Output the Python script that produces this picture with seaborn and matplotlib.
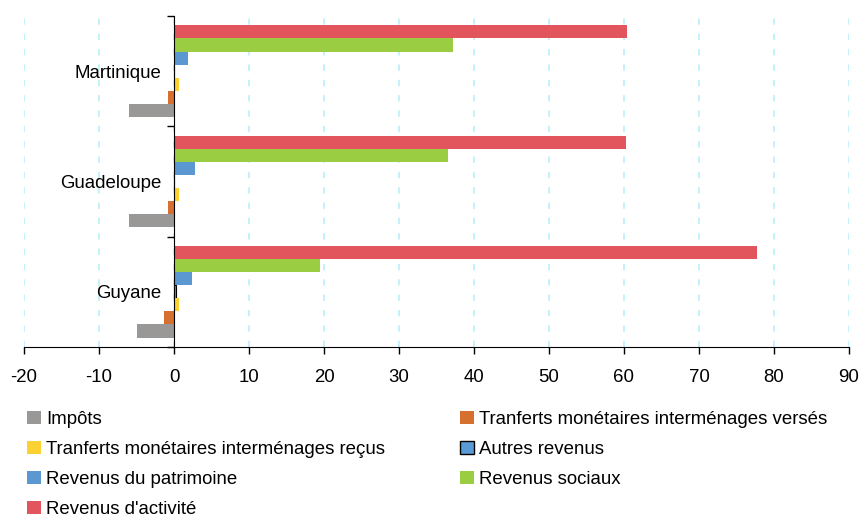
import pandas as pd
import numpy as np
import seaborn as sns
import matplotlib.pyplot as plt

# Données (en %)
regions = ['Martinique', 'Guadeloupe', 'Guyane']
series = ["Revenus d'activité", 'Revenus sociaux', 'Revenus du patrimoine', 'Autres revenus',
          'Tranferts monétaires interménages reçus', 'Tranferts monétaires interménages versés', 'Impôts']
revenus_activite = [60.4, 60.3, 77.7]
revenus_sociaux = [37.2, 36.5, 19.5]
revenus_patrimoine = [1.9, 2.8, 2.4]
autres_revenus = [0.0, 0.0, 0.25]
transferts_recus = [0.7, 0.6, 0.6]
transferts_verses = [-0.8, -0.8, -1.3]
impots = [-6.0, -6.0, -5.0]
x_ticks = list(range(-20, 100, 10))

values = [revenus_activite, revenus_sociaux, revenus_patrimoine, autres_revenus,
          transferts_recus, transferts_verses, impots]
rows = []
for s, vals in zip(series, values):
    for r, v in zip(regions, vals):
        rows.append({'region': r, 'serie': s, 'valeur': v})
df = pd.DataFrame(rows)

colors = ['#E3555C', '#9ACD41', '#5B97D1', '#5B9BD5', '#FBD232', '#D5702E', '#999896']
palette = dict(zip(series, colors))

plt.rcParams['font.family'] = ['Liberation Sans', 'DejaVu Sans']
plt.rcParams['axes.unicode_minus'] = False
fs = 13.4

fig, ax = plt.subplots(figsize=(8.61, 5.17), dpi=100)
fig.subplots_adjust(left=0.028, right=0.986, top=0.969, bottom=0.329)

sns.barplot(data=df, x='valeur', y='region', hue='serie', hue_order=series,
            order=regions, palette=palette, orient='h', width=0.83, saturation=1,
            errorbar=None, ax=ax, legend=True)

# contour noir pour "Autres revenus"
for patch in ax.containers[3]:
    patch.set_edgecolor('black')
    patch.set_linewidth(0.8)

ax.set_xlim(-20, 90)
ax.set_ylim(2.5, -0.5)
ax.set_xticks(x_ticks)
ax.set_xlabel('')
ax.set_ylabel('')
ax.tick_params(axis='x', labelsize=fs, length=5, width=1, color='black', pad=11)

# axe vertical sur 0
ax.spines['left'].set_position(('data', 0))
ax.spines['left'].set_color('black')
ax.spines['bottom'].set_color('black')
ax.spines['top'].set_visible(False)
ax.spines['right'].set_visible(False)
ax.set_yticks(range(len(regions)))
ax.set_yticklabels(regions)
ax.set_yticks([-0.5, 0.5, 1.5, 2.5], minor=True)
ax.tick_params(axis='y', which='major', length=0, pad=9, labelsize=fs)
ax.tick_params(axis='y', which='minor', length=5, width=1, color='black')

ax.set_axisbelow(True)
ax.xaxis.grid(True, color='#BDF1FB', linestyle=(0, (3.5, 5)), linewidth=1.3)
ax.yaxis.grid(False)

# légende dans l'ordre du graphique original
handles, labels = ax.get_legend_handles_labels()
lookup = dict(zip(labels, handles))
leg_order = ['Impôts', 'Tranferts monétaires interménages reçus', 'Revenus du patrimoine',
             "Revenus d'activité", 'Tranferts monétaires interménages versés',
             'Autres revenus', 'Revenus sociaux']
leg = ax.legend([lookup[l] for l in leg_order], leg_order, ncol=2, loc='upper left',
                bbox_to_anchor=(-0.008, -0.165), frameon=False, fontsize=fs,
                handlelength=0.75, handleheight=0.75, handletextpad=0.3,
                columnspacing=4.0, labelspacing=0.68, borderpad=0)
for h, l in zip(leg.legend_handles, leg_order):
    if l == 'Autres revenus':
        h.set_edgecolor('black')
        h.set_linewidth(1)

fig.savefig('out.png', dpi=100)
